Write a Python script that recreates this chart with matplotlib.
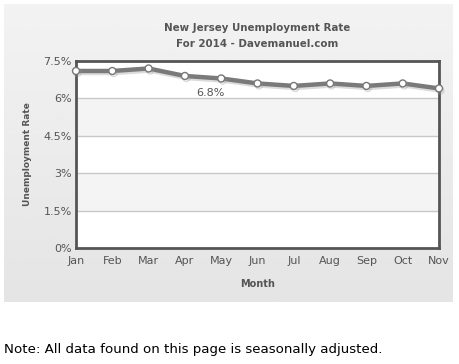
import numpy as np
import matplotlib.pyplot as plt
import matplotlib.patheffects as pe

months = ['Jan', 'Feb', 'Mar', 'Apr', 'May', 'Jun', 'Jul', 'Aug', 'Sep', 'Oct', 'Nov']
rate = [7.1, 7.1, 7.2, 6.9, 6.8, 6.6, 6.5, 6.6, 6.5, 6.6, 6.4]
yticks = [0, 1.5, 3, 4.5, 6, 7.5]
ylabels = ['0%', '1.5%', '3%', '4.5%', '6%', '7.5%']

W, H = 459, 364
fig = plt.figure(figsize=(W / 100, H / 100), dpi=100)
fig.patch.set_facecolor('white')

# gray panel behind the chart, light at top, darker at bottom
bg = fig.add_axes([4 / W, 1 - 302 / H, 449 / W, 298 / H])
grad = np.linspace(0.95, 0.895, 100).reshape(-1, 1)
bg.imshow(np.repeat(grad, 2, axis=1), cmap='gray', vmin=0, vmax=1, aspect='auto',
          extent=[0, 1, 0, 1])
bg.set_axis_off()

ax = fig.add_axes([76 / W, 1 - 248 / H, 363 / W, 187 / H])
ax.set_facecolor('white')
x = np.arange(len(months))
ax.set_xlim(0, len(months) - 1)
ax.set_ylim(0, 7.5)

# alternating bands
for i, lo in enumerate(yticks[:-1]):
    if i % 2 == 1:
        ax.axhspan(lo, yticks[i + 1], color='#f4f4f4', zorder=0, lw=0)
for t in yticks[1:-1]:
    ax.axhline(t, color='#c8c8c8', lw=1, zorder=1)

ax.plot(x, rate, color='#7a7a7a', lw=3.2, zorder=3, solid_capstyle='round',
        path_effects=[pe.SimpleLineShadow(offset=(1, -1.5), shadow_color='#999999', alpha=0.35),
                      pe.Normal()],
        marker='o', markersize=5, markerfacecolor='white', markeredgecolor='#777777',
        markeredgewidth=1.0, clip_on=False)

ax.annotate('6.8%', (x[4], rate[4]), xytext=(-8, -14), textcoords='offset points',
            fontsize=8, color='#555555', va='bottom', ha='center')

ax.set_xticks(x)
ax.set_xticklabels(months, fontsize=8, color='#555555')
ax.set_yticks(yticks)
ax.set_yticklabels(ylabels, fontsize=8, color='#555555')
ax.tick_params(length=0, pad=3)
ax.tick_params(axis='x', pad=6)
for s in ax.spines.values():
    s.set_color('#555555')
    s.set_linewidth(2)

ax.set_xlabel('Month', fontsize=7, fontweight='bold', color='#555555', labelpad=9)
ax.set_ylabel('Unemployment Rate', fontsize=6.5, fontweight='bold', color='#555555', labelpad=8)

fig.text((76 + 439) / 2 / W, 1 - 28 / H, 'New Jersey Unemployment Rate', fontsize=7.4,
         fontweight='bold', color='#555555', ha='center', va='center')
fig.text((76 + 439) / 2 / W, 1 - 44 / H, 'For 2014 - Davemanuel.com', fontsize=7.4,
         fontweight='bold', color='#555555', ha='center', va='center')

fig.text(4 / W, 1 - 350 / H, 'Note: All data found on this page is seasonally adjusted.',
         fontsize=9.6, color='black', ha='left', va='center')

fig.savefig('out.png', dpi=100)
